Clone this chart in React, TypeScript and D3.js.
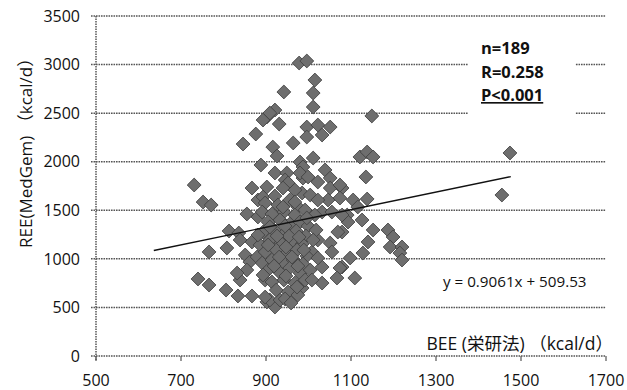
import React from "react";
import * as d3 from "d3";

// BEE (kcal/d) values
const beeValues: number[] = [
  731, 752, 771, 740, 766, 806, 834, 867, 766, 808, 813, 836, 855, 846, 876, 867, 881, 881, 839, 867,
  851, 862, 879, 839, 855, 832, 898, 902, 921, 909, 933, 898, 942, 931, 902, 921, 893, 909, 964, 916,
  926, 888, 921, 978, 996, 1015, 1011, 1011, 996, 1022, 1051, 1032, 996, 980, 1011, 987, 949, 945, 987, 980,
  1039, 1051, 999, 893, 1149, 1121, 1138, 1152, 1474, 1135, 1455, 1105, 1138, 1116, 1091, 1093, 1126, 1152, 1187, 1199,
  1140, 1192, 1220, 1215, 1220, 1128, 1098, 1079, 1109, 1079, 1079, 921, 985, 952, 1022, 1051, 1074, 1046, 1074, 1032,
  1055, 1069, 1022, 1051, 1055, 1008, 1032, 1074, 1067, 1032, 985, 1079, 898, 928, 956, 975, 891, 914, 942, 968,
  992, 905, 933, 956, 980, 999, 893, 919, 945, 971, 994, 886, 909, 935, 961, 985, 898, 924, 949, 973,
  996, 891, 914, 940, 964, 987, 905, 931, 956, 980, 1004, 914, 942, 968, 992, 924, 952, 975, 945, 940,
  968, 902, 1004, 1022, 1015, 1018, 1022, 1008, 959, 905, 947, 931, 961, 919, 947, 975, 989, 893, 954, 926,
  978, 909, 945, 968, 940, 996, 1011, 881, 973,
];

// REE (MedGem, kcal/d) values
const reeValues: number[] = [
  1760, 1585, 1554, 793, 731, 679, 618, 618, 1071, 1112, 1287, 1266, 1462, 2182, 2285, 1729, 1606, 1431, 1194, 1174,
  1040, 968, 1019, 782, 885, 854, 782, 556, 504, 576, 576, 607, 2718, 2388, 2460, 2532, 2429, 2501, 2193, 2151,
  2059, 1966, 1884, 3016, 3037, 2841, 2707, 2563, 2357, 2378, 2357, 2275, 2254, 1997, 2038, 1946, 1884, 1812, 1832, 1884,
  1915, 1832, 1843, 1637, 2471, 2049, 2100, 2049, 2090, 1843, 1657, 1606, 1616, 1534, 1451, 1379, 1400, 1297, 1297, 1225,
  1174, 1122, 1122, 1060, 988, 1060, 1009, 916, 803, 1729, 1276, 1647, 1678, 1781, 1791, 1729, 1760, 1606, 1626, 1482,
  1482, 1276, 1194, 1163, 1071, 1071, 916, 906, 803, 751, 700, 1451, 1575, 1554, 1606, 1534, 1482, 1462, 1482, 1451,
  1503, 1379, 1400, 1359, 1379, 1338, 1276, 1297, 1266, 1287, 1235, 1143, 1194, 1163, 1184, 1153, 1071, 1091, 1060, 1091,
  1029, 957, 988, 968, 988, 947, 885, 865, 906, 854, 885, 762, 782, 751, 782, 679, 659, 628, 587, 1729,
  1709, 1740, 1657, 1606, 1451, 1297, 1009, 782, 546, 1143, 1122, 1019, 1019, 926, 824, 926, 1091, 834, 1235, 1235,
  1225, 1328, 1338, 1585, 1534, 1421, 1194, 1246, 710,
];

const xTicks: number[] = [500, 700, 900, 1100, 1300, 1500, 1700];
const yTicks: number[] = [0, 500, 1000, 1500, 2000, 2500, 3000, 3500];

const slope = 0.9061;
const intercept = 509.53;
const trendRange: number[] = [636, 1476];

const statLines: string[] = ["n=189", "R=0.258", "P<0.001"];
const equationLabel = "y = 0.9061x + 509.53";
const xTitle = "BEE (栄研法) （kcal/d）";
const yTitle = "REE(MedGem) （kcal/d）";

const W = 627;
const H = 390;
const left = 96;
const right = 606;
const top = 16;
const bottom = 356;

const font = "'Open Sans', 'Noto Sans CJK JP', sans-serif";

export default function App() {
  const x = d3.scaleLinear().domain([500, 1700]).range([left, right]);
  const y = d3.scaleLinear().domain([0, 3500]).range([bottom, top]);
  const diamond = d3.symbol().type(d3.symbolSquare).size(96)() as string;
  const trendLine = d3
    .line<number>()
    .x((v) => x(v))
    .y((v) => y(slope * v + intercept))(trendRange) as string;

  const gridStroke = "#555";
  const dash = "1.6 0.9";

  return (
    <svg
      width={W}
      height={H}
      style={{ position: "absolute", left: 0, top: 0, background: "#fff" }}
      fontFamily={font}
    >
      <rect x={0} y={0} width={W} height={H} fill="#fff" />
      {yTicks.map((t) => (
        <line
          key={"g" + t}
          x1={left - 5}
          x2={right}
          y1={y(t)}
          y2={y(t)}
          stroke={gridStroke}
          strokeWidth={1.5}
          strokeDasharray={dash}
        />
      ))}
      <line x1={left} x2={left} y1={top} y2={bottom + 4} stroke={gridStroke} strokeWidth={1.5} strokeDasharray={dash} />
      {xTicks.map((t) => (
        <line key={"xt" + t} x1={x(t)} x2={x(t)} y1={bottom} y2={bottom + 5} stroke={gridStroke} strokeWidth={1.2} />
      ))}
      <rect x={468} y={22} width={107} height={96} fill="#fff" />
      {beeValues.map((b, i) => (
        <path
          key={"p" + i}
          d={diamond}
          transform={`translate(${x(b)},${y(reeValues[i])}) rotate(45)`}
          fill="#6e6e6e"
          stroke="#404040"
          strokeWidth={0.8}
        />
      ))}
      <path d={trendLine} fill="none" stroke="#111" strokeWidth={1.4} />
      {yTicks.map((t) => (
        <text key={"yl" + t} x={80} y={y(t)} dy="0.36em" textAnchor="end" fontSize={16} fill="#111">
          {t}
        </text>
      ))}
      {xTicks.map((t) => (
        <text key={"xl" + t} x={x(t)} y={386} textAnchor="middle" fontSize={16} fill="#111">
          {t}
        </text>
      ))}
      {statLines.map((s, i) => (
        <text
          key={"s" + i}
          x={481}
          y={54 + i * 23.5}
          fontSize={16.5}
          fontWeight="bold"
          fill="#111"
          textDecoration={i === 2 ? "underline" : undefined}
        >
          {s}
        </text>
      ))}
      <text x={443} y={287} fontSize={15.2} fill="#111">
        {equationLabel}
      </text>
      <text x={613} y={350} textAnchor="end" fontSize={17.5} fill="#111">
        {xTitle}
      </text>
      <text transform={`translate(32,248) rotate(-90)`} textAnchor="start" fontSize={17} fill="#111">
        {yTitle}
      </text>
    </svg>
  );
}
